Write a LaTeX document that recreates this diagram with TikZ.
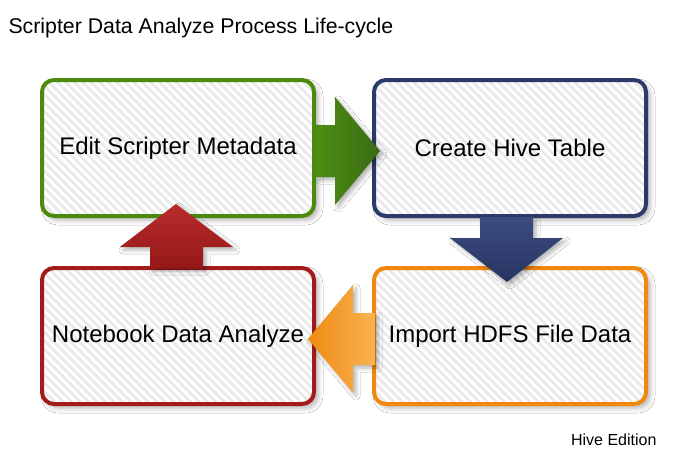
\documentclass[tikz,border=0pt]{standalone}
\usepackage{fontspec}
\setmainfont{Liberation Sans}
\usetikzlibrary{shadows.blur,patterns.meta}
\definecolor{cgreen}{HTML}{4A8A0C}
\definecolor{cgreenA}{HTML}{4C8E10}
\definecolor{cgreenB}{HTML}{3B6A18}
\definecolor{cblue}{HTML}{2B3A68}
\definecolor{cblueA}{HTML}{3C4C7E}
\definecolor{cblueB}{HTML}{263463}
\definecolor{corange}{HTML}{F2870E}
\definecolor{corangeA}{HTML}{F08A12}
\definecolor{corangeB}{HTML}{F8B352}
\definecolor{cred}{HTML}{A11B1B}
\definecolor{credA}{HTML}{B82C2C}
\definecolor{credB}{HTML}{961818}
\definecolor{stripe}{HTML}{EAEAEA}
\definecolor{shadowc}{HTML}{3A4878}
\tikzset{
  stage/.style={draw=#1, line width=4pt, rounded corners=12pt,
    minimum width=272pt, minimum height=136pt, inner sep=0pt,
    font=\fontsize{24}{28}\selectfont,
    blur shadow={shadow xshift=4pt, shadow yshift=-4pt, shadow blur radius=5pt, shadow opacity=30},
    preaction={fill=white},
    pattern={Lines[angle=-45,distance=6pt,line width=2.8pt]}, pattern color=stripe},
  blockarrow/.style={blur shadow={shadow xshift=3pt, shadow yshift=-3pt, shadow blur radius=4pt, shadow opacity=30}}
}
\begin{document}
\begin{tikzpicture}[x=1pt,y=-1pt]
\useasboundingbox[fill=white] (0,0) rectangle (678,466);
\node[anchor=base west, font=\fontsize{21.3}{25}\selectfont] (title) at (5,33) {Scripter Data Analyze Process Life-cycle};
\node[stage=cgreen] (edit) at (178,148) {Edit Scripter Metadata};
\node[stage=cblue] (hive) at (510,148) {Create Hive Table};
\node[stage=corange] (hdfs) at (510,336) {Import HDFS File Data};
\node[stage=cred] (note) at (178,336) {Notebook Data Analyze};
\node[anchor=base east, font=\fontsize{16}{19}\selectfont] (edition) at (660,445) {Hive Edition};
% arrows
\shade[blockarrow, left color=cgreenA, right color=cgreenB]
  (316,125) -- (335,125) -- (335,97) -- (380,151) -- (335,205) -- (335,177) -- (316,177) -- cycle;
\shade[blockarrow, top color=cblueA, bottom color=cblueB]
  (480,217) -- (533,217) -- (533,238) -- (563,238) -- (507,282) -- (450,238) -- (480,238) -- cycle;
\shade[blockarrow, left color=corangeA, right color=corangeB]
  (375,313) -- (353,313) -- (353,285) -- (308,339) -- (353,393) -- (353,365) -- (375,365) -- cycle;
\shade[blockarrow, top color=credA, bottom color=credB]
  (150,268) -- (150,247) -- (120,247) -- (176,204) -- (233,247) -- (203,247) -- (203,268) -- cycle;
\end{tikzpicture}
\end{document}
